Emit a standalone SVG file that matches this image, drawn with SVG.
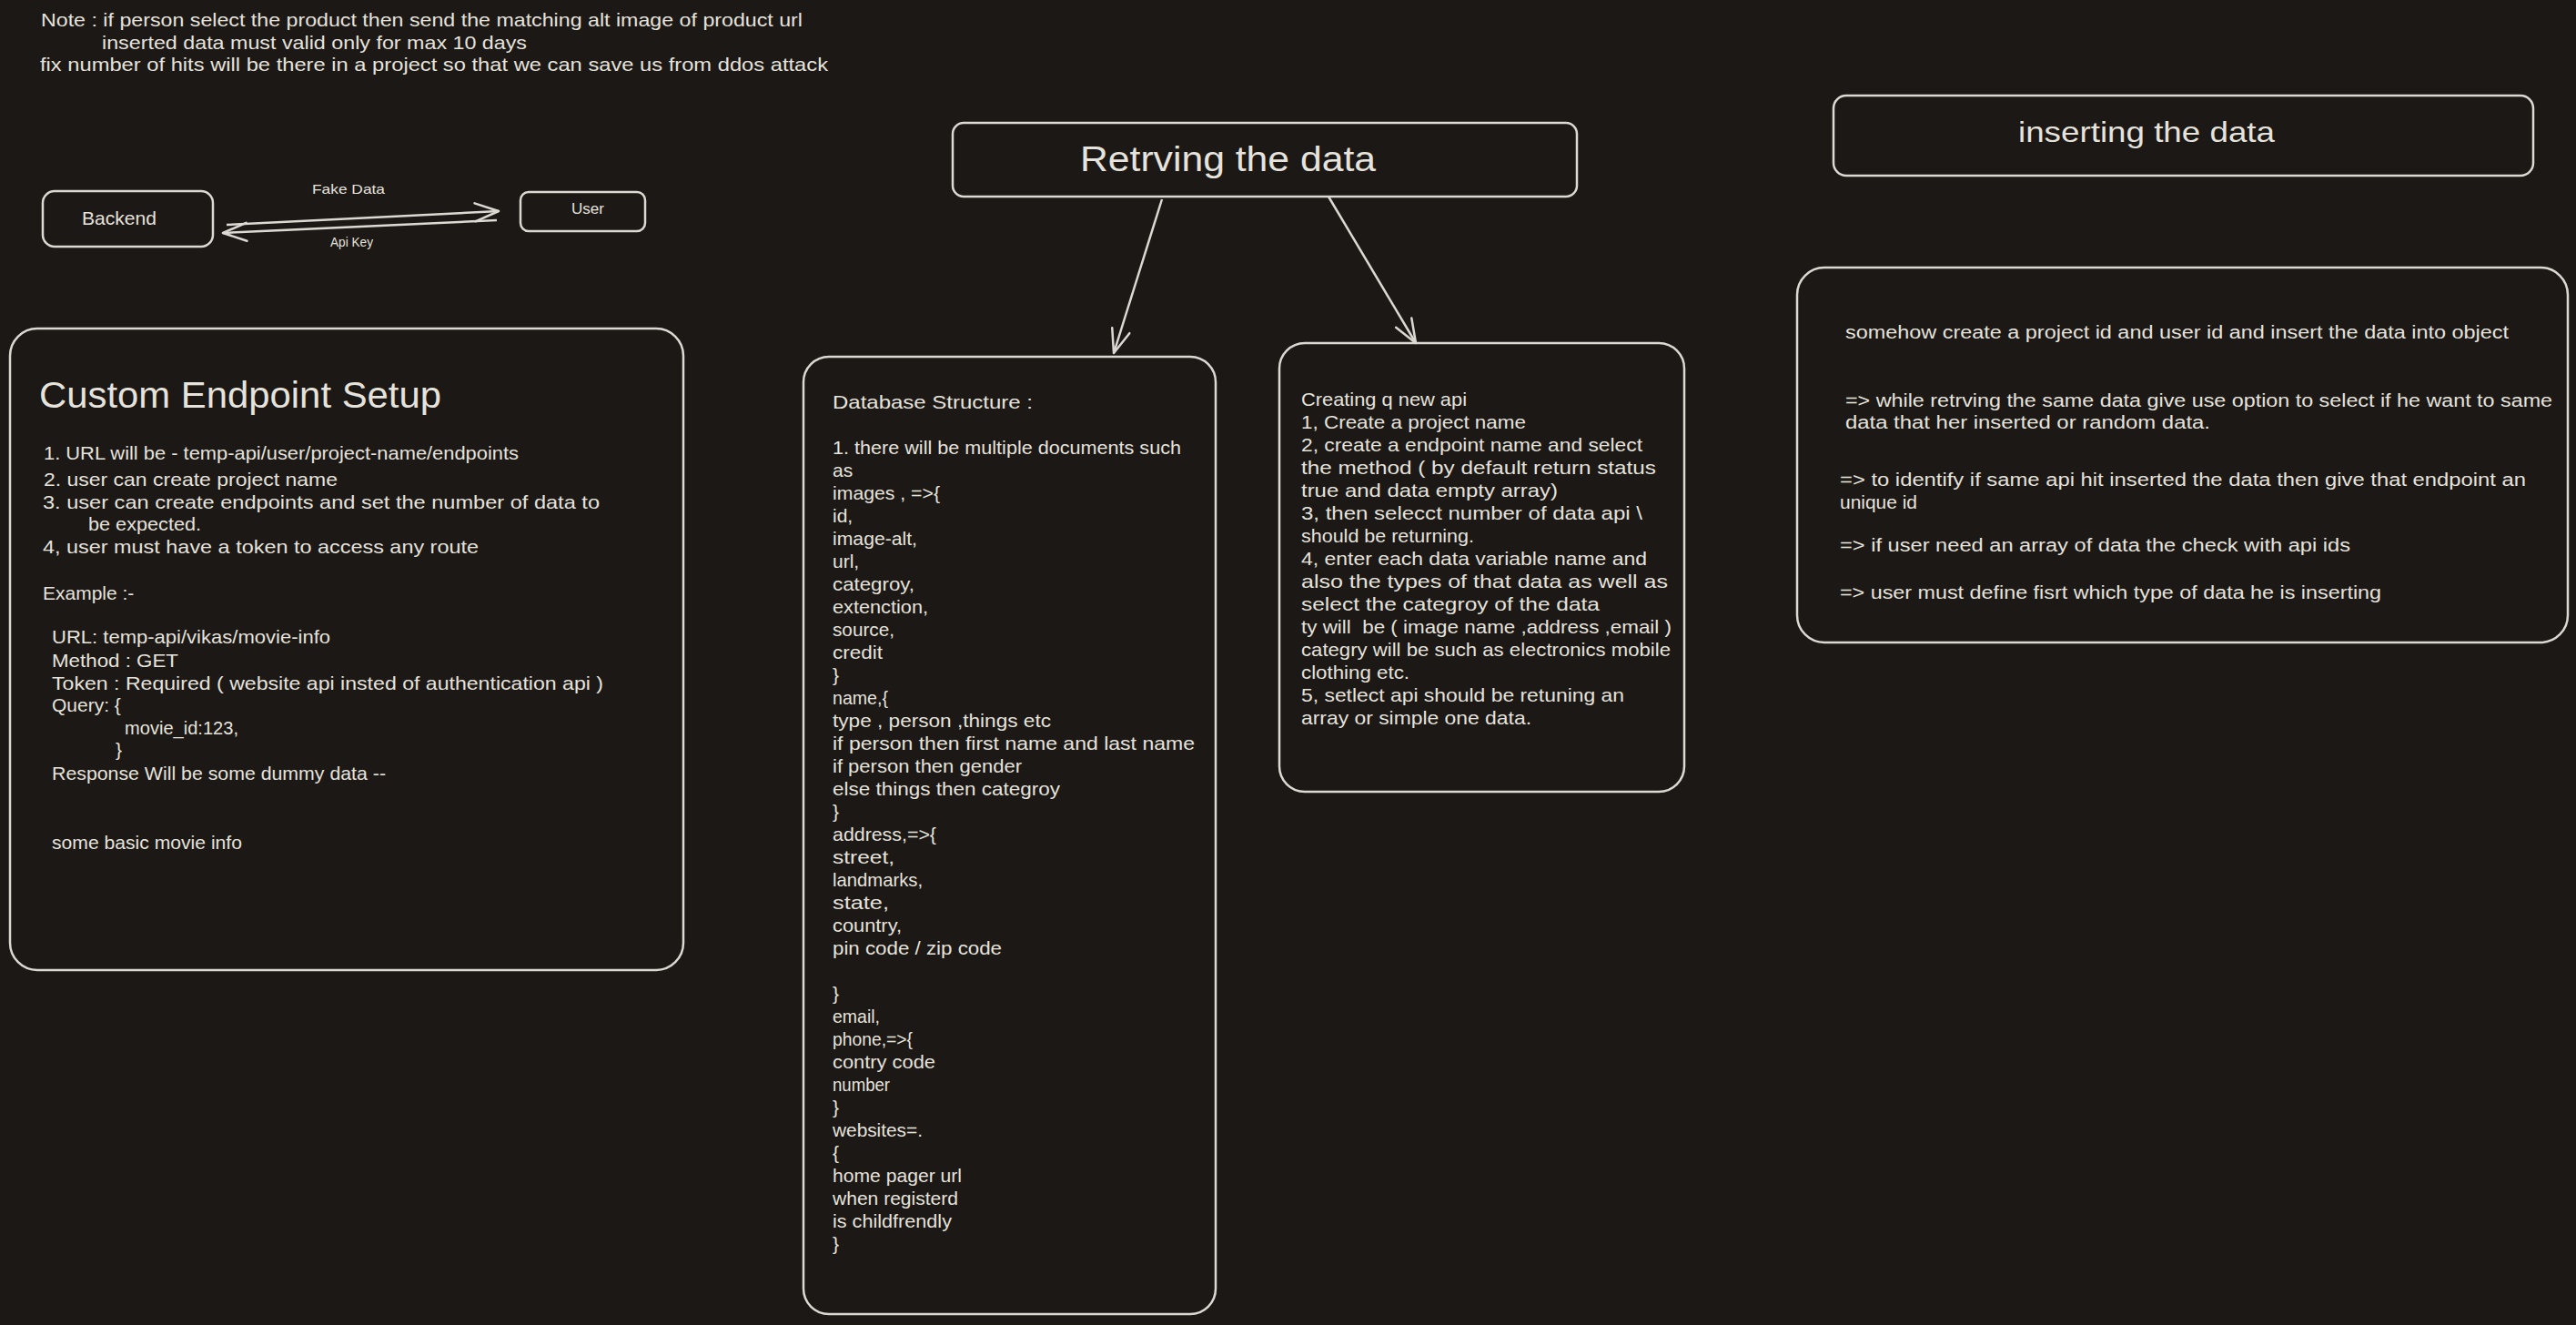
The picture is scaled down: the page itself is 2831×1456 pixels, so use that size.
<svg xmlns="http://www.w3.org/2000/svg" width="2831" height="1456" viewBox="0 0 2831 1456">
<style>
.t{font-family:"Liberation Sans",Arial,sans-serif;fill:#e6e2dc;font-size:21px}
.s20{font-size:20px}
.box{fill:none;stroke:#dcd8d2;stroke-width:2.5}
.edge{fill:none;stroke:#dcd8d2;stroke-width:2.5;marker-end:url(#ah)}
</style>
<defs>
<marker id="ah" viewBox="0 0 30 24" refX="28" refY="12" markerWidth="30" markerHeight="24" markerUnits="userSpaceOnUse" orient="auto">
<path d="M2,2 L28,12 L2,22" fill="none" stroke="#dcd8d2" stroke-width="2.5" stroke-linecap="round" stroke-linejoin="round"/>
</marker>
</defs>
<rect width="2831" height="1456" fill="#1b1816"/>

<g id="note">
<text class="t" x="45" y="29" textLength="837" lengthAdjust="spacingAndGlyphs">Note : if person select the product then send the matching alt image of product url</text>
<text class="t" x="112" y="54" textLength="467" lengthAdjust="spacingAndGlyphs">inserted data must valid only for max 10 days</text>
<text class="t" x="44" y="78" textLength="866" lengthAdjust="spacingAndGlyphs">fix number of hits will be there in a project so that we can save us from ddos attack</text>
</g>

<g id="backend">
<rect class="box" x="47" y="210" width="187" height="61" rx="13"/>
<text class="t" x="90" y="247" font-size="22" textLength="82" lengthAdjust="spacingAndGlyphs">Backend</text>
</g>

<g id="user">
<rect class="box" x="572" y="211" width="137" height="43" rx="9"/>
<text class="t" x="628" y="235" style="font-size:17px" textLength="36" lengthAdjust="spacingAndGlyphs">User</text>
</g>

<g id="connectors">
<path class="edge" d="M249,247 L548,232"/>
<path class="edge" d="M546,242 L245,256"/>
<text class="t" x="343" y="213" style="font-size:15px" textLength="80" lengthAdjust="spacingAndGlyphs">Fake Data</text>
<text class="t" x="363" y="271" style="font-size:15px" textLength="47" lengthAdjust="spacingAndGlyphs">Api Key</text>
<path class="edge" d="M1277,219 L1224,388"/>
<path class="edge" d="M1460,216 L1556,377"/>
</g>

<g id="custom-endpoint">
<rect class="box" x="11" y="361" width="740" height="705" rx="30"/>
<text class="t" x="43" y="448" style="font-size:40px" textLength="442" lengthAdjust="spacingAndGlyphs">Custom Endpoint Setup</text>
<text class="t" x="48" y="505" textLength="522" lengthAdjust="spacingAndGlyphs">1. URL will be - temp-api/user/project-name/endpoints</text>
<text class="t" x="48" y="534" textLength="323" lengthAdjust="spacingAndGlyphs">2. user can create project name</text>
<text class="t" x="47" y="559" textLength="612" lengthAdjust="spacingAndGlyphs">3. user can create endpoints and set the number of data to</text>
<text class="t" x="97" y="583" textLength="124" lengthAdjust="spacingAndGlyphs">be expected.</text>
<text class="t" x="47" y="608" textLength="479" lengthAdjust="spacingAndGlyphs">4, user must have a token to access any route</text>
<text class="t" x="47" y="659">Example :-</text>
<text class="t" x="57" y="707" textLength="306" lengthAdjust="spacingAndGlyphs">URL:  temp-api/vikas/movie-info</text>
<text class="t" x="57" y="733" textLength="139" lengthAdjust="spacingAndGlyphs">Method : GET</text>
<text class="t" x="57" y="758" textLength="606" lengthAdjust="spacingAndGlyphs">Token : Required ( website api insted of authentication api )</text>
<text class="t" x="57" y="782">Query: {</text>
<text class="t" x="137" y="807" textLength="125" lengthAdjust="spacingAndGlyphs">movie_id:123,</text>
<text class="t" x="127" y="831">}</text>
<text class="t" x="57" y="857" textLength="367" lengthAdjust="spacingAndGlyphs">Response Will be some dummy data --</text>
<text class="t" x="57" y="933" textLength="209" lengthAdjust="spacingAndGlyphs">some basic movie info</text>
</g>

<g id="retrieving">
<rect class="box" x="1047" y="135" width="686" height="81" rx="12"/>
<text class="t" x="1187" y="188" style="font-size:38px" textLength="325" lengthAdjust="spacingAndGlyphs">Retrving the data</text>
</g>

<g id="inserting">
<rect class="box" x="2015" y="105" width="769" height="88" rx="14"/>
<text class="t" x="2218" y="156" style="font-size:32px" textLength="282" lengthAdjust="spacingAndGlyphs">inserting the data</text>
</g>

<g id="database-structure">
<rect class="box" x="883" y="392" width="453" height="1052" rx="28"/>
<text class="t" x="915" y="449" textLength="220" lengthAdjust="spacingAndGlyphs">Database Structure :</text>
<text class="t" x="915" y="499" textLength="383" lengthAdjust="spacingAndGlyphs">1. there will be multiple documents such</text>
<text class="t" x="915" y="524">as</text>
<text class="t" x="915" y="549" textLength="118" lengthAdjust="spacingAndGlyphs">images , =&gt;{</text>
<text class="t" x="915" y="574">id,</text>
<text class="t" x="915" y="599" textLength="93" lengthAdjust="spacingAndGlyphs">image-alt,</text>
<text class="t" x="915" y="624">url,</text>
<text class="t" x="915" y="649" textLength="90" lengthAdjust="spacingAndGlyphs">categroy,</text>
<text class="t" x="915" y="674" textLength="105" lengthAdjust="spacingAndGlyphs">extenction,</text>
<text class="t" x="915" y="699" textLength="68" lengthAdjust="spacingAndGlyphs">source,</text>
<text class="t" x="915" y="724" textLength="55" lengthAdjust="spacingAndGlyphs">credit</text>
<text class="t" x="915" y="749">}</text>
<text class="t" x="915" y="774" textLength="61" lengthAdjust="spacingAndGlyphs">name,{</text>
<text class="t" x="915" y="799" textLength="240" lengthAdjust="spacingAndGlyphs">type , person ,things etc</text>
<text class="t" x="915" y="824" textLength="398" lengthAdjust="spacingAndGlyphs">if person then first name and last name</text>
<text class="t" x="915" y="849" textLength="208" lengthAdjust="spacingAndGlyphs">if person then gender</text>
<text class="t" x="915" y="874" textLength="250" lengthAdjust="spacingAndGlyphs">else things then categroy</text>
<text class="t" x="915" y="899">}</text>
<text class="t" x="915" y="924" textLength="114" lengthAdjust="spacingAndGlyphs">address,=&gt;{</text>
<text class="t" x="915" y="949" textLength="68" lengthAdjust="spacingAndGlyphs">street,</text>
<text class="t" x="915" y="974" textLength="99" lengthAdjust="spacingAndGlyphs">landmarks,</text>
<text class="t" x="915" y="999" textLength="62" lengthAdjust="spacingAndGlyphs">state,</text>
<text class="t" x="915" y="1024" textLength="76" lengthAdjust="spacingAndGlyphs">country,</text>
<text class="t" x="915" y="1049" textLength="186" lengthAdjust="spacingAndGlyphs">pin code / zip code</text>
<text class="t" x="915" y="1099">}</text>
<text class="t" x="915" y="1124" textLength="52" lengthAdjust="spacingAndGlyphs">email,</text>
<text class="t" x="915" y="1149" textLength="88" lengthAdjust="spacingAndGlyphs">phone,=&gt;{</text>
<text class="t" x="915" y="1174" textLength="113" lengthAdjust="spacingAndGlyphs">contry code</text>
<text class="t" x="915" y="1199" textLength="63" lengthAdjust="spacingAndGlyphs">number</text>
<text class="t" x="915" y="1224">}</text>
<text class="t" x="915" y="1249" textLength="99" lengthAdjust="spacingAndGlyphs">websites=.</text>
<text class="t" x="915" y="1274">{</text>
<text class="t" x="915" y="1299" textLength="142" lengthAdjust="spacingAndGlyphs">home pager url</text>
<text class="t" x="915" y="1324" textLength="138" lengthAdjust="spacingAndGlyphs">when registerd</text>
<text class="t" x="915" y="1349" textLength="131" lengthAdjust="spacingAndGlyphs">is childfrendly</text>
<text class="t" x="915" y="1374">}</text>
</g>

<g id="creating-api">
<rect class="box" x="1406" y="377" width="445" height="493" rx="28"/>
<text class="t" x="1430" y="446" textLength="182" lengthAdjust="spacingAndGlyphs">Creating q new api</text>
<text class="t" x="1430" y="471" textLength="247" lengthAdjust="spacingAndGlyphs">1, Create a project name</text>
<text class="t" x="1430" y="496" textLength="375" lengthAdjust="spacingAndGlyphs">2, create a endpoint name and select</text>
<text class="t" x="1430" y="521" textLength="390" lengthAdjust="spacingAndGlyphs">the method ( by default return status</text>
<text class="t" x="1430" y="546" textLength="282" lengthAdjust="spacingAndGlyphs">true and data empty array)</text>
<text class="t" x="1430" y="571" textLength="375" lengthAdjust="spacingAndGlyphs">3, then selecct number of data api \</text>
<text class="t" x="1430" y="596" textLength="190" lengthAdjust="spacingAndGlyphs">should be returning.</text>
<text class="t" x="1430" y="621" textLength="380" lengthAdjust="spacingAndGlyphs">4, enter each data variable name and</text>
<text class="t" x="1430" y="646" textLength="403" lengthAdjust="spacingAndGlyphs">also the types of that data as well as</text>
<text class="t" x="1430" y="671" textLength="328" lengthAdjust="spacingAndGlyphs">select the categroy of the data</text>
<text class="t" x="1430" y="696" textLength="407" lengthAdjust="spacingAndGlyphs" xml:space="preserve">ty will  be ( image name ,address ,email )</text>
<text class="t" x="1430" y="721" textLength="406" lengthAdjust="spacingAndGlyphs">categry will be such as electronics mobile</text>
<text class="t" x="1430" y="746" textLength="119" lengthAdjust="spacingAndGlyphs">clothing etc.</text>
<text class="t" x="1430" y="771" textLength="355" lengthAdjust="spacingAndGlyphs">5, setlect api should be retuning an</text>
<text class="t" x="1430" y="796" textLength="253" lengthAdjust="spacingAndGlyphs">array or simple one data.</text>
</g>

<g id="inserting-notes">
<rect class="box" x="1975" y="294" width="847" height="412" rx="30"/>
<text class="t s20" x="2028" y="372" textLength="729" lengthAdjust="spacingAndGlyphs">somehow create a project id and user id and insert the data into object</text>
<text class="t s20" x="2028" y="447" textLength="777" lengthAdjust="spacingAndGlyphs">=&gt; while retrving the same data give use option to select if he want to same</text>
<text class="t s20" x="2028" y="471" textLength="401" lengthAdjust="spacingAndGlyphs">data that her inserted or random data.</text>
<text class="t s20" x="2022" y="534" textLength="754" lengthAdjust="spacingAndGlyphs">=&gt; to identify if same api hit inserted the data then give that endpoint an</text>
<text class="t s20" x="2022" y="559" textLength="85" lengthAdjust="spacingAndGlyphs">unique id</text>
<text class="t s20" x="2022" y="606" textLength="561" lengthAdjust="spacingAndGlyphs">=&gt; if user need an array of data the check with api ids</text>
<text class="t s20" x="2022" y="658" textLength="595" lengthAdjust="spacingAndGlyphs">=&gt; user must define fisrt which type of data he is inserting</text>
</g>
</svg>
